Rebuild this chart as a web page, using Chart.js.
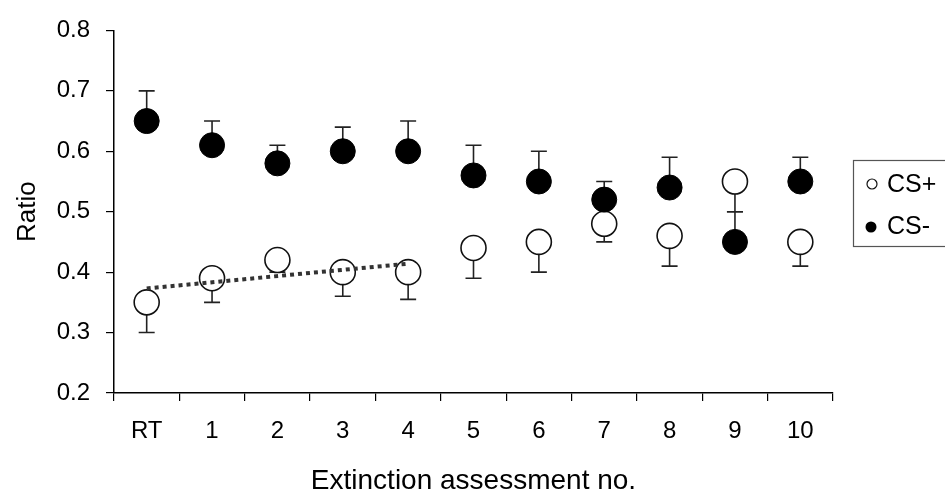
<!DOCTYPE html>
<html>
<head>
<meta charset="utf-8">
<script src="https://cdn.jsdelivr.net/npm/chart.js@4/dist/chart.umd.min.js"></script>
<style>
  html, body { margin: 0; padding: 0; background: #fff; }
  #wrap { width: 945px; height: 498px; position: relative; }
</style>
</head>
<body>
<div id="wrap"><canvas id="myChart"></canvas></div>
<script>
// values
const categories = ["RT", "1", "2", "3", "4", "5", "6", "7", "8", "9", "10"];
const csPlus = [0.35, 0.39, 0.42, 0.40, 0.40, 0.44, 0.45, 0.48, 0.46, 0.55, 0.45];
const csPlusLow = [0.30, 0.35, 0.40, 0.36, 0.355, 0.39, 0.40, 0.45, 0.41, 0.50, 0.41];
const csMinus = [0.65, 0.61, 0.58, 0.60, 0.60, 0.56, 0.55, 0.52, 0.54, 0.45, 0.55];
const csMinusHigh = [0.70, 0.65, 0.61, 0.64, 0.65, 0.61, 0.60, 0.55, 0.59, 0.50, 0.59];
const trendLine = [0.373, null, null, null, 0.414, null, null, null, null, null, null];
const yTicks = [0.2, 0.3, 0.4, 0.5, 0.6, 0.7, 0.8];

const FONT = "'Liberation Sans', Arial, sans-serif";

// error bars: CS+ hang down, CS- go up
const errorBars = {
  id: "errorBars",
  beforeDatasetsDraw(chart) {
    const ctx = chart.ctx;
    const x = chart.scales.x;
    const y = chart.scales.y;
    ctx.save();
    ctx.strokeStyle = "#222";
    ctx.lineWidth = 1.6;
    const draw = (vals, ends) => {
      for (let i = 0; i < vals.length; i++) {
        const px = x.getPixelForValue(i);
        const y0 = y.getPixelForValue(vals[i]);
        const y1 = y.getPixelForValue(ends[i]);
        ctx.beginPath();
        ctx.moveTo(px, y0);
        ctx.lineTo(px, y1);
        ctx.moveTo(px - 8, y1);
        ctx.lineTo(px + 8, y1);
        ctx.stroke();
      }
    };
    draw(csPlus, csPlusLow);
    draw(csMinus, csMinusHigh);
    ctx.restore();
  }
};

// boxed legend at the right, partly cut by the edge
const boxLegend = {
  id: "boxLegend",
  afterDraw(chart) {
    const ctx = chart.ctx;
    ctx.save();
    ctx.strokeStyle = "#555";
    ctx.lineWidth = 1.2;
    ctx.strokeRect(853.5, 160.5, 110, 86);
    ctx.font = "25px " + FONT;
    ctx.textBaseline = "middle";
    ctx.beginPath();
    ctx.arc(872, 184, 5, 0, Math.PI * 2);
    ctx.fillStyle = "#fff";
    ctx.fill();
    ctx.strokeStyle = "#111";
    ctx.lineWidth = 1.2;
    ctx.stroke();
    ctx.beginPath();
    ctx.arc(871, 227, 5.5, 0, Math.PI * 2);
    ctx.fillStyle = "#000";
    ctx.fill();
    ctx.fillText("CS+", 887, 185);
    ctx.fillText("CS-", 887, 227);
    ctx.restore();
  }
};

new Chart(document.getElementById("myChart"), {
  type: "line",
  data: {
    labels: categories,
    datasets: [
      {
        label: "trend",
        data: trendLine,
        spanGaps: true,
        borderColor: "#333",
        borderWidth: 4,
        borderDash: [4, 4],
        pointRadius: 0,
        order: -1
      },
      {
        label: "CS-",
        data: csMinus,
        showLine: false,
        pointRadius: 12.5,
        pointBackgroundColor: "#000",
        pointBorderColor: "#000",
        pointBorderWidth: 1,
        order: 0
      },
      {
        label: "CS+",
        data: csPlus,
        showLine: false,
        pointRadius: 12.5,
        pointBackgroundColor: "#fff",
        pointBorderColor: "#111",
        pointBorderWidth: 1.6,
        order: 1
      }
    ]
  },
  options: {
    responsive: true,
    maintainAspectRatio: false,
    animation: false,
    layout: { padding: { top: 22, right: 112, left: 0, bottom: 0 } },
    plugins: { legend: { display: false }, tooltip: { enabled: false } },
    scales: {
      x: {
        offset: true,
        grid: { offset: true, drawOnChartArea: false, tickLength: 8, color: "#000", lineWidth: 1.2 },
        border: { color: "#000", width: 1.5 },
        ticks: { color: "#000", font: { family: FONT, size: 24 }, padding: 16, maxRotation: 0 },
        title: { display: true, text: "Extinction assessment no.", color: "#000", font: { family: FONT, size: 28 }, padding: { top: 8, bottom: 0 } },
        afterFit(scale) { scale.height = 105; }
      },
      y: {
        min: 0.2,
        max: 0.8,
        afterBuildTicks(scale) { scale.ticks = yTicks.map(v => ({ value: v })); },
        grid: { drawOnChartArea: false, tickLength: 8, color: "#000", lineWidth: 1.2 },
        border: { color: "#000", width: 1.5 },
        ticks: { color: "#000", font: { family: FONT, size: 24 }, padding: 16, callback: v => v.toFixed(1) },
        title: { display: true, text: "Ratio", color: "#000", font: { family: FONT, size: 26 }, padding: { bottom: 0, top: 12 } },
        afterFit(scale) { scale.width = 114; }
      }
    }
  },
  plugins: [errorBars, boxLegend]
});
</script>
</body>
</html>
